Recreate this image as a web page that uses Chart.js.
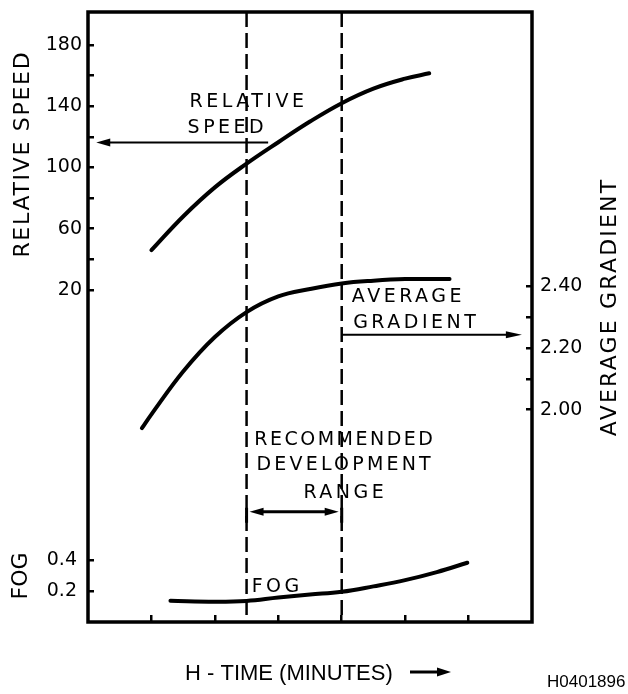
<!DOCTYPE html>
<html>
<head>
<meta charset="utf-8">
<script src="https://cdn.jsdelivr.net/npm/chart.js@4"></script>
<style>
  body { margin: 0; background: #fff; }
  canvas { display: block; }
</style>
</head>
<body>
<canvas id="devChart" width="628" height="694"></canvas>
<script>
// Values. Time runs 0..7 across the frame (unlabelled ticks 1..6).
const timeTicks = [1, 2, 3, 4, 5, 6];
const rangeTimes = [2.5, 4];

const speedTimes = [1, 1.5, 2, 2.5, 3, 3.5, 4, 4.5, 5, 5.38];
const speedValues = [46, 68, 87, 102.5, 116.5, 130, 142, 151.5, 158, 161.5];
const speedTicks = [20, 40, 60, 80, 100, 120, 140, 160, 180];
const speedLabels = [20, 60, 100, 140, 180];

const gradientTimes = [0.85, 1, 1.5, 2, 2.5, 3, 3.5, 4, 4.5, 5, 5.7];
const gradientValues = [1.94, 1.985, 2.124, 2.236, 2.317, 2.368, 2.392, 2.41, 2.419, 2.424, 2.424];
const gradientTicks = [2.0, 2.1, 2.2, 2.3, 2.4];
const gradientLabels = [2.0, 2.2, 2.4];

const fogTimes = [1.3, 2, 2.5, 3, 3.5, 4, 4.5, 5, 5.5, 5.98];
const fogValues = [0.137, 0.131, 0.136, 0.158, 0.177, 0.195, 0.23, 0.27, 0.322, 0.382];
const fogTicks = [0.2, 0.4];

const toPoints = (xs, ys) => xs.map((x, i) => ({ x: x, y: ys[i] }));
const setTicks = (values) => (scale) => { scale.ticks = values.map(v => ({ value: v })); };

const FONT = "'DejaVu Sans', sans-serif";
const ARIAL = "'Liberation Sans', Arial, sans-serif";

// fixed axis box size, and no label overhang padding
function fixSize(w, h) {
  return (s) => {
    if (w) s.width = w;
    if (h) s.height = h;
    s.paddingTop = s.paddingBottom = s.paddingLeft = s.paddingRight = 0;
  };
}

// inward tick marks, no grid on the chart area
function tickGrid(len) {
  return { drawOnChartArea: false, drawTicks: true, tickLength: -len, color: '#000', lineWidth: 2.5 };
}

function curve(points, axis) {
  return {
    data: points,
    yAxisID: axis,
    borderColor: '#000',
    borderWidth: 4,
    borderCapStyle: 'round',
    pointRadius: 0,
    tension: 0.4,
    fill: false
  };
}

function head(ctx, x, y, dir, len, half) {
  ctx.beginPath();
  ctx.moveTo(x, y);
  ctx.lineTo(x - dir * len, y - half);
  ctx.lineTo(x - dir * len, y + half);
  ctx.closePath();
  ctx.fill();
}

function text(ctx, str, x, y, align, spacing) {
  ctx.letterSpacing = spacing + 'px';
  ctx.textAlign = align;
  const shift = align === 'center' ? spacing / 2 : 0;
  ctx.fillText(str, x + shift, y);
}

function vtext(ctx, str, cx, cy, font, spacing) {
  ctx.save();
  ctx.translate(cx, cy);
  ctx.rotate(-Math.PI / 2);
  ctx.font = font;
  ctx.letterSpacing = spacing + 'px';
  ctx.textAlign = 'center';
  ctx.textBaseline = 'middle';
  ctx.fillText(str, spacing / 2, 0);
  ctx.restore();
}

const annotate = {
  id: 'annotate',
  beforeDatasetsDraw(chart) {
    const { ctx, chartArea: a, scales } = chart;
    ctx.save();
    ctx.strokeStyle = '#000';
    ctx.lineWidth = 2.5;
    ctx.setLineDash([15, 6]);
    rangeTimes.forEach(t => {
      const x = scales.x.getPixelForValue(t);
      ctx.beginPath();
      ctx.moveTo(x, a.top);
      ctx.lineTo(x, a.bottom);
      ctx.stroke();
    });
    ctx.restore();
  },
  afterDraw(chart) {
    const { ctx, chartArea: a, scales } = chart;
    const xs = scales.x, sp = scales.speed, gr = scales.gradient, fg = scales.fog;
    ctx.save();
    ctx.fillStyle = '#000';
    ctx.strokeStyle = '#000';

    // frame
    ctx.lineWidth = 3.5;
    ctx.strokeRect(a.left, a.top, a.right - a.left, a.bottom - a.top);

    // relative speed arrow -> left axis
    let y = sp.getPixelForValue(116.3);
    let x0 = xs.getPixelForValue(2.84), x1 = xs.getPixelForValue(0.13);
    ctx.lineWidth = 2;
    ctx.beginPath(); ctx.moveTo(x0, y); ctx.lineTo(x1 + 10, y); ctx.stroke();
    head(ctx, x1, y, -1, 14, 4);

    // average gradient arrow -> right axis
    y = gr.getPixelForValue(2.243);
    x0 = xs.getPixelForValue(rangeTimes[1]); x1 = xs.getPixelForValue(6.84);
    ctx.beginPath(); ctx.moveTo(x0, y); ctx.lineTo(x1 - 10, y); ctx.stroke();
    head(ctx, x1, y, 1, 16, 3.5);

    // recommended range double arrow
    y = gr.getPixelForValue(1.669);
    x0 = xs.getPixelForValue(rangeTimes[0]); x1 = xs.getPixelForValue(rangeTimes[1]);
    ctx.lineWidth = 3;
    ctx.beginPath(); ctx.moveTo(x0 + 12, y); ctx.lineTo(x1 - 12, y); ctx.stroke();
    head(ctx, x0 + 3, y, -1, 14, 4);
    head(ctx, x1 - 3, y, 1, 14, 4);
    ctx.beginPath();
    ctx.moveTo(x0, y - 4); ctx.lineTo(x0, y + 11);
    ctx.moveTo(x1, y - 4); ctx.lineTo(x1, y + 11);
    ctx.stroke();

    // in-plot labels
    ctx.font = '19px ' + FONT;
    ctx.textBaseline = 'alphabetic';
    text(ctx, 'RELATIVE', xs.getPixelForValue(1.6), sp.getPixelForValue(139.5), 'left', 3.5);
    text(ctx, 'SPEED', xs.getPixelForValue(1.57), sp.getPixelForValue(122.5), 'left', 3.5);
    text(ctx, 'AVERAGE', xs.getPixelForValue(4.16), gr.getPixelForValue(2.35), 'left', 3.5);
    text(ctx, 'GRADIENT', xs.getPixelForValue(4.18), gr.getPixelForValue(2.265), 'left', 3.5);
    const cx = xs.getPixelForValue(4.03);
    text(ctx, 'RECOMMENDED', cx, gr.getPixelForValue(1.885), 'center', 2.5);
    text(ctx, 'DEVELOPMENT', cx, gr.getPixelForValue(1.804), 'center', 3.2);
    text(ctx, 'RANGE', cx, gr.getPixelForValue(1.713), 'center', 3.5);
    text(ctx, 'FOG', xs.getPixelForValue(2.58), fg.getPixelForValue(0.194), 'left', 3.5);

    // axis titles
    vtext(ctx, 'RELATIVE SPEED', 23, 155, '22px ' + FONT, 1.7);
    vtext(ctx, 'FOG', 21, 576, '22px ' + FONT, 0);
    vtext(ctx, 'AVERAGE GRADIENT', 610, 308, '22px ' + FONT, 2.2);

    ctx.letterSpacing = '0px';
    ctx.textAlign = 'left';
    ctx.font = '22px ' + ARIAL;
    ctx.fillText('H - TIME (MINUTES)', 185, 680);
    ctx.lineWidth = 3;
    ctx.beginPath(); ctx.moveTo(410, 672); ctx.lineTo(440, 672); ctx.stroke();
    head(ctx, 451, 672, 1, 14, 4.5);

    ctx.font = '17px ' + ARIAL;
    ctx.fillText('H0401896', 547, 687);
    ctx.restore();
  }
};

new Chart(document.getElementById('devChart'), {
  type: 'line',
  data: {
    datasets: [
      curve(toPoints(speedTimes, speedValues), 'speed'),
      curve(toPoints(gradientTimes, gradientValues), 'gradient'),
      curve(toPoints(fogTimes, fogValues), 'fog')
    ]
  },
  options: {
    responsive: false,
    animation: false,
    devicePixelRatio: 1,
    layout: { padding: { top: 12, left: 0, right: 0, bottom: 0 } },
    plugins: { legend: { display: false }, tooltip: { enabled: false } },
    scales: {
      x: {
        type: 'linear',
        min: 0,
        max: 7,
        afterBuildTicks: setTicks(timeTicks),
        afterFit: fixSize(0, 72),
        ticks: { autoSkip: false, callback: () => '' },
        grid: tickGrid(7),
        border: { display: false }
      },
      fog: {
        type: 'linear',
        position: 'left',
        stack: 'left',
        stackWeight: 162,
        min: 0,
        max: 1.045,
        afterBuildTicks: setTicks(fogTicks),
        afterFit: fixSize(88, 0),
        ticks: {
          autoSkip: false,
          padding: 17,
          color: '#000',
          font: { family: FONT, size: 19 },
          callback: (v) => v.toFixed(1)
        },
        grid: tickGrid(6),
        border: { display: false }
      },
      speed: {
        type: 'linear',
        position: 'left',
        stack: 'left',
        stackWeight: 448,
        min: -91.06,
        max: 201.55,
        afterBuildTicks: setTicks(speedTicks),
        afterFit: fixSize(88, 0),
        ticks: {
          autoSkip: false,
          padding: 12,
          color: '#000',
          font: { family: FONT, size: 19 },
          callback: (v) => speedLabels.includes(v) ? String(v) : ''
        },
        grid: tickGrid(6),
        border: { display: false }
      },
      gradient: {
        type: 'linear',
        position: 'right',
        min: 1.311,
        max: 3.291,
        afterBuildTicks: setTicks(gradientTicks),
        afterFit: fixSize(96, 0),
        ticks: {
          autoSkip: false,
          padding: 14,
          color: '#000',
          font: { family: FONT, size: 19 },
          callback: (v) => gradientLabels.some(l => Math.abs(l - v) < 1e-6) ? v.toFixed(2) : ''
        },
        grid: tickGrid(6),
        border: { display: false }
      }
    }
  },
  plugins: [annotate]
});
</script>
</body>
</html>
